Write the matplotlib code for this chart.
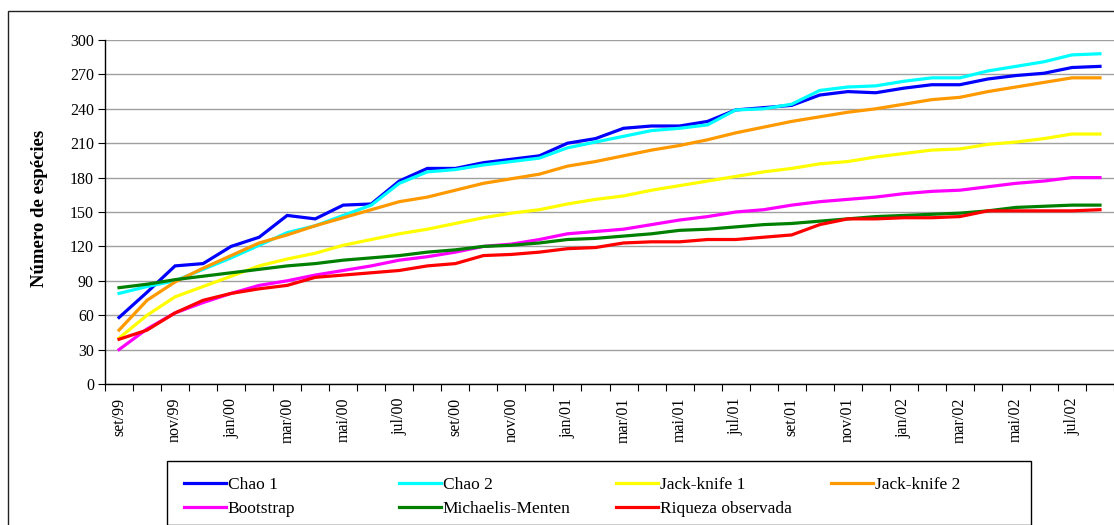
import matplotlib
matplotlib.use("Agg")
import matplotlib.pyplot as plt
from matplotlib.patches import Rectangle
import numpy as np

# Monthly sampling, set/99 .. ago/02
months = ["set/99", "out/99", "nov/99", "dez/99", "jan/00", "fev/00", "mar/00", "abr/00",
          "mai/00", "jun/00", "jul/00", "ago/00", "set/00", "out/00", "nov/00", "dez/00",
          "jan/01", "fev/01", "mar/01", "abr/01", "mai/01", "jun/01", "jul/01", "ago/01",
          "set/01", "out/01", "nov/01", "dez/01", "jan/02", "fev/02", "mar/02", "abr/02",
          "mai/02", "jun/02", "jul/02", "ago/02"]

chao1 = [58, 80, 103, 105, 120, 128, 147, 144, 156, 157, 177, 188, 188, 193, 196, 199, 210, 214,
         223, 225, 225, 229, 239, 241, 243, 252, 255, 254, 258, 261, 261, 266, 269, 271, 276, 277]
chao2 = [79, 85, 90, 100, 110, 121, 132, 138, 147, 156, 175, 185, 187, 191, 194, 197, 206, 211,
         216, 221, 223, 226, 239, 240, 244, 256, 259, 260, 264, 267, 267, 273, 277, 281, 287, 288]
jack1 = [40, 60, 76, 85, 94, 103, 109, 114, 121, 126, 131, 135, 140, 145, 149, 152, 157, 161,
         164, 169, 173, 177, 181, 185, 188, 192, 194, 198, 201, 204, 205, 209, 211, 214, 218, 218]
jack2 = [47, 73, 89, 101, 112, 123, 130, 138, 145, 152, 159, 163, 169, 175, 179, 183, 190, 194,
         199, 204, 208, 213, 219, 224, 229, 233, 237, 240, 244, 248, 250, 255, 259, 263, 267, 267]
bootstrap = [30, 48, 62, 71, 79, 86, 90, 95, 99, 103, 108, 111, 115, 120, 122, 126, 131, 133,
             135, 139, 143, 146, 150, 152, 156, 159, 161, 163, 166, 168, 169, 172, 175, 177, 180, 180]
michaelis = [84, 87, 91, 94, 97, 100, 103, 105, 108, 110, 112, 115, 117, 120, 121, 123, 126, 127,
             129, 131, 134, 135, 137, 139, 140, 142, 144, 146, 147, 148, 149, 151, 154, 155, 156, 156]
observada = [39, 47, 62, 73, 79, 83, 86, 93, 95, 97, 99, 103, 105, 112, 113, 115, 118, 119,
             123, 124, 124, 126, 126, 128, 130, 139, 144, 144, 145, 145, 146, 151, 151, 151, 151, 152]

series = [
    ("Chao 1", chao1, "#0000FF"),
    ("Chao 2", chao2, "#00FFFF"),
    ("Jack-knife 1", jack1, "#FFFF00"),
    ("Jack-knife 2", jack2, "#FF9900"),
    ("Bootstrap", bootstrap, "#FF00FF"),
    ("Michaelis-Menten", michaelis, "#008000"),
    ("Riqueza observada", observada, "#FF0000"),
]

plt.rcParams["font.family"] = ["Liberation Serif", "DejaVu Serif"]

W, H = 1114, 525
fig = plt.figure(figsize=(W / 100, H / 100), dpi=100)
ax = fig.add_axes([105 / W, 1 - 384 / H, 1009 / W, 344 / H])

x = np.arange(len(months))
handles = []
for name, vals, col in series:
    h, = ax.plot(x, vals, color=col, lw=2.3, label=name, solid_joinstyle="miter")
    handles.append(h)

ax.set_xlim(-0.5, len(months) - 0.5)
ax.set_ylim(0, 300)
ax.set_yticks(np.arange(0, 301, 30))
ax.yaxis.grid(True, color="#A0A0A0", lw=1.0)
ax.set_axisbelow(True)
for s in ("top", "right"):
    ax.spines[s].set_visible(False)
for s in ("left", "bottom"):
    ax.spines[s].set_color("black")
    ax.spines[s].set_linewidth(1.0)

# category boundaries carry the tick marks, every second month carries a label
ax.set_xticks(np.arange(-0.5, len(months), 1.0))
ax.set_xticklabels([])
ax.set_xticks(x[::2], minor=True)
ax.set_xticklabels(months[::2], minor=True, rotation=90, fontsize=11.5)
ax.tick_params(axis="x", which="major", length=5, direction="out", color="black")
ax.tick_params(axis="x", which="minor", length=0, pad=10)
ax.tick_params(axis="y", length=5, direction="out", labelsize=11.5, pad=3, color="black")

ax.set_ylabel("Número de espécies", fontsize=13.5, fontweight="bold")
ax.yaxis.set_label_coords(-0.056, 0.51)

# legend: four evenly spaced columns inside one framed box
box_x0, box_y0, box_w = 167, 461, 864
fig.patches.append(Rectangle((box_x0 / W, 0), box_w / W, 1 - box_y0 / H,
                             transform=fig.transFigure, fill=False,
                             edgecolor="black", lw=1.0))
columns = [[0, 4], [1, 5], [2, 6], [3]]
col_x = [184, 399, 616, 831]
for cx, idx in zip(col_x, columns):
    fig.legend([handles[i] for i in idx], [series[i][0] for i in idx],
               loc="upper left", bbox_to_anchor=(cx / W, 1 - 477 / H),
               bbox_transform=fig.transFigure, frameon=False, fontsize=12.5,
               handlelength=2.4, handletextpad=0.12, labelspacing=0.45,
               borderpad=0, borderaxespad=0)

fig.patches.append(Rectangle((8 / W, -0.2), 1.2, 0.2 + 1 - 11 / H, transform=fig.transFigure,
                             fill=False, edgecolor="#222222", lw=1.0))

fig.savefig("out.png", dpi=100, facecolor="white")
